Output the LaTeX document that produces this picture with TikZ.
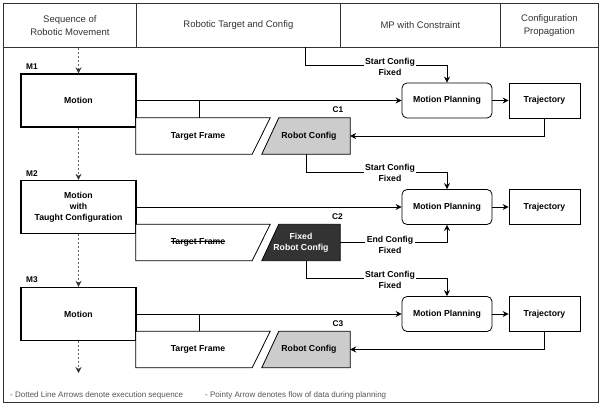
\documentclass[tikz,border=0pt]{standalone}
\usepackage{fontspec}
\setmainfont{Liberation Sans}
\usetikzlibrary{arrows.meta,calc}
\definecolor{hdrtext}{HTML}{333333}
\definecolor{framecol}{HTML}{333333}
\definecolor{cfgfill}{HTML}{CCCCCC}
\definecolor{fixfill}{HTML}{333333}
\definecolor{seqcol}{HTML}{666666}
\definecolor{footcol}{HTML}{555555}
\begin{document}
\begin{tikzpicture}[x=1pt,y=-1pt,
  hdrcell/.style={draw=framecol, line width=0.8pt, anchor=north west, inner sep=0pt, align=center,
    text=hdrtext, font=\fontsize{9.5}{13}\selectfont, minimum height=44pt},
  mbox/.style={draw, line width=1.3pt, minimum width=115pt, minimum height=53pt, inner sep=0pt,
    align=center, font=\bfseries\fontsize{8.7}{11}\selectfont},
  mpbox/.style={draw, line width=0.8pt, rounded corners=5pt, minimum width=90pt, minimum height=35pt,
    inner sep=0pt, font=\bfseries\fontsize{8.7}{11}\selectfont},
  trbox/.style={draw, line width=0.8pt, minimum width=71pt, minimum height=35pt,
    inner sep=0pt, font=\bfseries\fontsize{8.7}{11}\selectfont},
  area/.style={inner sep=0pt, minimum height=36pt},
  shapeline/.style={line width=0.8pt, draw=black},
  btext/.style={inner sep=0pt, align=center, font=\bfseries\fontsize{8.7}{11}\selectfont},
  lbl/.style={fill=white, inner sep=1.5pt, align=center, font=\bfseries\fontsize{8.7}{11}\selectfont},
  clbl/.style={inner sep=0pt, font=\bfseries\fontsize{8.3}{10}\selectfont},
  arr/.style={line width=0.8pt, -{Stealth[length=6pt,width=6pt,inset=2pt]}},
  seq/.style={line width=0.9pt, draw=seqcol, dash pattern=on 2pt off 2pt,
    -{Stealth[length=6pt,width=6pt,inset=2pt,color=black!80]}},
  foot/.style={inner sep=0pt, anchor=west, text=footcol, font=\fontsize{8}{10}\selectfont}
]
\useasboundingbox (0,0) rectangle (602,406);
\fill[white] (0,0) rectangle (602,406);

% frame and header
\node[draw=framecol, line width=0.8pt, anchor=north west, minimum width=595pt, minimum height=399pt, inner sep=0pt] (frame) at (3,3) {};
\node[hdrcell, minimum width=133pt] (h1) at (3,3) {Sequence of\\Robotic Movement};
\node[hdrcell, minimum width=204pt] (h2) at (136,3) {Robotic Target and Config};
\node[hdrcell, minimum width=160pt] (h3) at (340,3) {MP with Constraint};
\node[hdrcell, minimum width=98pt] (h4) at (500,3) {Configuration\\Propagation};

% movements
\node[mbox] (m1) at (78.5,100.5) {Motion};
\node[mbox] (m2) at (78.5,207) {Motion\\with\\Taught Configuration};
\node[mbox] (m3) at (78.5,314) {Motion};
\node[clbl] (m1l) at (32,67) {M1};
\node[clbl] (m2l) at (32,173.5) {M2};
\node[clbl] (m3l) at (32,279.5) {M3};

% motion planning and trajectories
\node[mpbox] (mp1) at (447,100.5) {Motion Planning};
\node[mpbox] (mp2) at (447,207) {Motion Planning};
\node[mpbox] (mp3) at (447,314) {Motion Planning};
\node[trbox] (tr1) at (544.5,100.5) {Trajectory};
\node[trbox] (tr2) at (544.5,207) {Trajectory};
\node[trbox] (tr3) at (544.5,314) {Trajectory};

% target frames
\node[area, minimum width=134pt] (tf1) at (203,136) {};
\node[area, minimum width=134pt] (tf2) at (203,242.5) {};
\node[area, minimum width=134pt] (tf3) at (203,349.5) {};
\foreach \t in {tf1,tf2,tf3}{
  \draw[shapeline, fill=white] (\t.north west) -- (\t.north east) -- ($(\t.south east)+(-18,0)$) -- (\t.south west) -- cycle;
}
\node[btext] (tf1t) at ($(tf1.center)+(-5,0)$) {Target Frame};
\node[btext] (tf2t) at ($(tf2.center)+(-5,0)$) {Target Frame};
\draw[line width=0.7pt] ($(tf2t.west)+(0,-0.8)$) -- ($(tf2t.east)+(0,-0.8)$);
\node[btext] (tf3t) at ($(tf3.center)+(-5,0)$) {Target Frame};

% robot configs
\node[area, minimum width=88pt] (rc1) at (306,136) {};
\node[area, minimum width=78pt] (fc2) at (301,242.5) {};
\node[area, minimum width=88pt] (rc3) at (306,349.5) {};
\draw[shapeline, fill=cfgfill] ($(rc1.north west)+(17,0)$) -- (rc1.north east) -- (rc1.south east) -- (rc1.south west) -- cycle;
\draw[shapeline, fill=fixfill] ($(fc2.north west)+(17,0)$) -- (fc2.north east) -- (fc2.south east) -- (fc2.south west) -- cycle;
\draw[shapeline, fill=cfgfill] ($(rc3.north west)+(17,0)$) -- (rc3.north east) -- (rc3.south east) -- (rc3.south west) -- cycle;
\node[btext] (rc1t) at ($(rc1.center)+(3,0)$) {Robot Config};
\node[btext, text=white] (fc2t) at ($(fc2.center)+(0,0)$) {Fixed\\Robot Config};
\node[btext] (rc3t) at ($(rc3.center)+(3,0)$) {Robot Config};
\node[clbl] (c1) at (338,110) {C1};
\node[clbl] (c2) at (337.5,217) {C2};
\node[clbl] (c3) at (338,324) {C3};

% sequence arrows
\coordinate (send) at (78.5,373);
\draw[seq] (m1.north |- h1.south) -- (m1.north);
\draw[seq] (m1.south) -- (m2.north);
\draw[seq] (m2.south) -- (m3.north);
\draw[seq] (m3.south) -- (send);

% data flow
\draw[arr] (m1.east) -- (mp1.west);
\draw[arr] (m2.east) -- (mp2.west);
\draw[arr] (m3.east) -- (mp3.west);
\coordinate (j1) at (199,100.5);
\coordinate (j3) at (199,314);
\draw[line width=0.8pt] (j1) -- (j1 |- tf1.north);
\draw[line width=0.8pt] (j3) -- (j3 |- tf3.north);
\draw[arr] (mp1.east) -- (tr1.west);
\draw[arr] (mp2.east) -- (tr2.west);
\draw[arr] (mp3.east) -- (tr3.west);
\draw[arr] (tr1.south) |- (rc1.east);
\draw[arr] (tr3.south) |- (rc3.east);

\coordinate (s1) at (305,47);
\coordinate (k1) at (447,65);
\coordinate (k2) at (447,172);
\coordinate (k3) at (447,278);
\draw[arr] (s1) |- (k1) -- (mp1.north);
\draw[arr] (rc1.south) |- (k2) -- (mp2.north);
\draw[arr] (fc2.south -| rc1.south) |- (k3) -- (mp3.north);
\draw[arr] (fc2.east) -| (mp2.south);
\node[lbl] (sc1) at (390,66.5) {Start Config\\Fixed};
\node[lbl] (sc2) at (390,173) {Start Config\\Fixed};
\node[lbl] (ec2) at (390,244.5) {End Config\\Fixed};
\node[lbl] (sc3) at (390,279.5) {Start Config\\Fixed};

% footnotes
\node[foot] (f1) at (10,395.5) {- Dotted Line Arrows denote execution sequence};
\node[foot] (f2) at (205,395.5) {- Pointy Arrow denotes flow of data during planning};
\end{tikzpicture}
\end{document}
